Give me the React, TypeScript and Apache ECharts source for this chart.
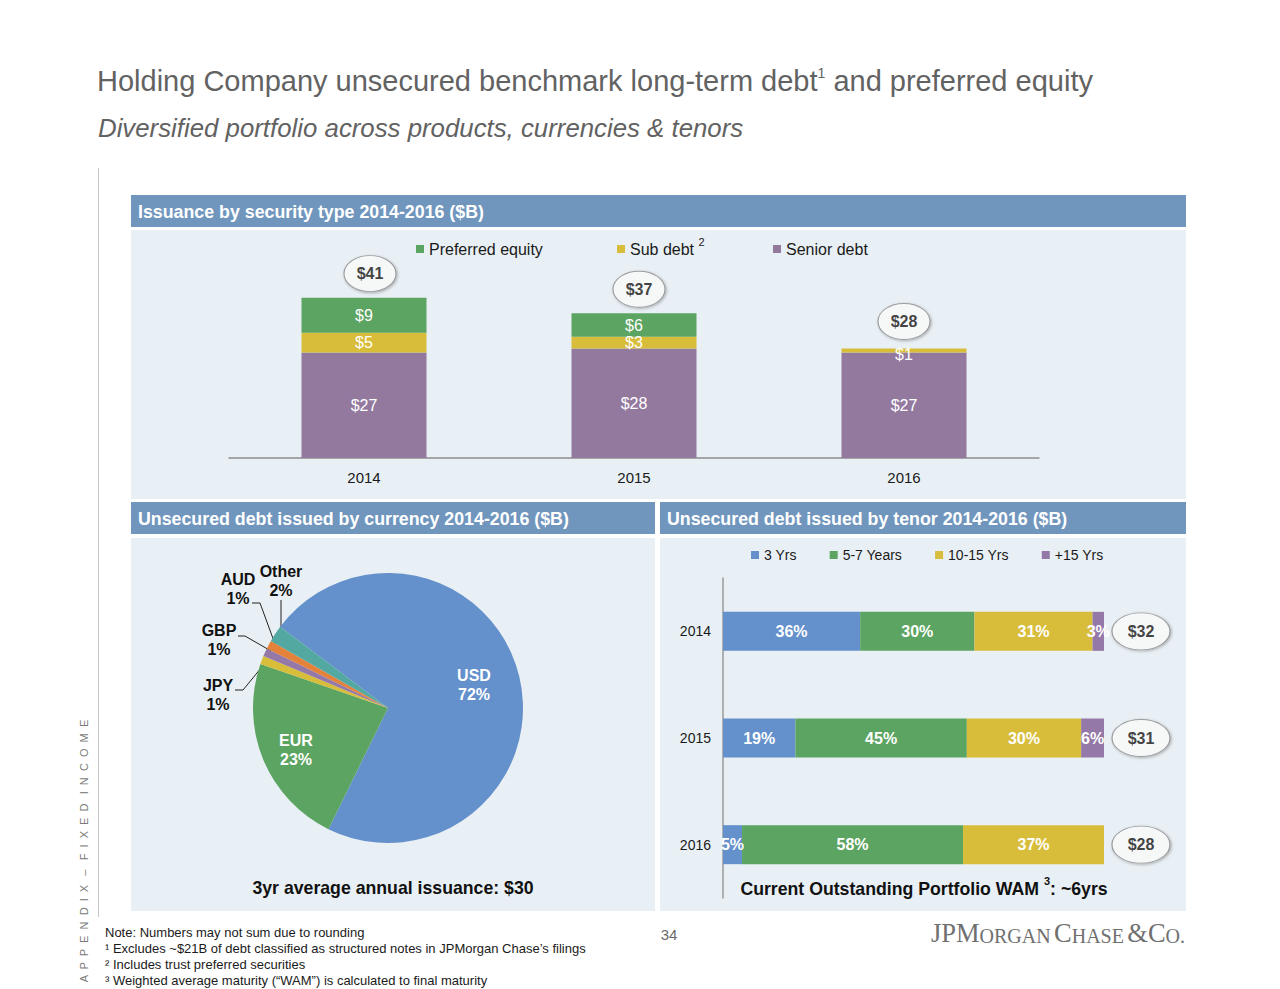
import React, { useEffect, useRef } from 'react';
import * as echarts from 'echarts';

const FONT = '"Liberation Sans", Arial, Helvetica, sans-serif';
const SERIF = '"Liberation Serif", "Times New Roman", serif';

// ---- Data: issuance by security type ($B)
const issuanceYears = ['2014', '2015', '2016'];
const seniorDebt = [27, 28, 27];
const subDebt = [5, 3, 1];
const preferredEquity = [9, 6, 0];
const issuanceTotals = [41, 37, 28];

// ---- Data: unsecured debt by currency (%)
const currencyNames = ['USD', 'EUR', 'JPY', 'GBP', 'AUD', 'Other'];
const currencyShares = [72, 23, 1, 1, 1, 2];

// ---- Data: unsecured debt by tenor (%)
const tenorYears = ['2014', '2015', '2016'];
const tenor3Yrs = [36, 19, 5];
const tenor5to7 = [30, 45, 58];
const tenor10to15 = [31, 30, 37];
const tenorOver15 = [3, 6, 0];
const tenorTotals = [32, 31, 28];

// ---- Styles / layout
const BLUE = '#6490cc';
const GREEN = '#5ca461';
const YELLOW = '#d8bd3b';
const PURPLE = '#94799f';
const currencyColors = [BLUE, GREEN, YELLOW, '#9479a8', '#e5823a', '#53a8a2'];
const HEADER = '#7096be';
const BODY = '#e9f0f5';

const ELLIPSE = 'path://M0,50 C0,22.4 22.4,0 50,0 C77.6,0 100,22.4 100,50 C100,77.6 77.6,100 50,100 C22.4,100 0,77.6 0,50 Z';
const topEllipseOffsets = [[6, -24], [5, -24], [0, -27]];

const pieLabelLayout: any[] = [
  { x: 474, y: 685 },
  { x: 296, y: 750 },
  { x: 218, y: 695, pts: [[266, 662], [243, 690], [235, 690]] },
  { x: 219, y: 640, pts: [[271, 651], [245, 636], [238, 636]] },
  { x: 238, y: 589, pts: [[275, 644], [260, 603], [252, 603]] },
  { x: 281, y: 581, pts: [[281, 632], [281, 616], [281, 600]] },
];

const ellipseStyle = {
  color: '#ffffff',
  borderColor: '#8a8a8a',
  borderWidth: 1,
  shadowBlur: 3,
  shadowColor: 'rgba(0,0,0,0.35)',
  shadowOffsetX: 1,
  shadowOffsetY: 1,
};

function txt(x: number, y: number, text: string, style: any, extra: any = {}) {
  return {
    type: 'text',
    x,
    y,
    z: 20,
    ...extra,
    style: { text, fontFamily: FONT, fill: '#1a1a1a', verticalAlign: 'middle', ...style },
  };
}

function rect(x: number, y: number, w: number, h: number, fill: string) {
  return { type: 'rect', z: 0, shape: { x, y, width: w, height: h }, style: { fill } };
}

export default function App() {
  const ref = useRef<HTMLDivElement>(null);

  useEffect(() => {
    if (!ref.current) return;
    const chart = echarts.init(ref.current, null, { renderer: 'svg' });

    const legendCommon = {
      icon: 'rect',
      itemWidth: 8,
      itemHeight: 8,
      selectedMode: false,
      textStyle: { fontSize: 16, color: '#1a1a1a', fontFamily: FONT },
    };

    const barLabel = (size: number, bold: boolean) => ({
      show: true,
      position: 'inside',
      color: '#ffffff',
      fontSize: size,
      fontWeight: bold ? 'bold' : 'normal',
      fontFamily: FONT,
    });

    const tenorSum = tenorYears.map(
      (_, i) => tenor3Yrs[i] + tenor5to7[i] + tenor10to15[i] + tenorOver15[i]
    );

    const option: any = {
      animation: false,
      textStyle: { fontFamily: FONT },
      legend: [
        { ...legendCommon, data: ['Preferred equity'], left: 411, top: 236 },
        {
          ...legendCommon,
          data: ['Sub debt'],
          left: 612,
          top: 231,
          formatter: () => '{n|Sub debt }{s|2}',
          textStyle: {
            ...legendCommon.textStyle,
            rich: {
              n: { fontSize: 16, lineHeight: 26, color: '#1a1a1a', fontFamily: FONT, verticalAlign: 'middle' },
              s: { fontSize: 11, lineHeight: 11, color: '#1a1a1a', fontFamily: FONT, verticalAlign: 'top' },
            },
          },
        },
        { ...legendCommon, data: ['Senior debt'], left: 768, top: 236 },
        {
          ...legendCommon,
          data: ['3 Yrs', '5-7 Years', '10-15 Yrs', '+15 Yrs'],
          left: 746,
          top: 543,
          itemGap: 33,
          textStyle: { fontSize: 14, color: '#1a1a1a', fontFamily: FONT },
        },
      ],
      grid: [
        { left: 229, top: 282, width: 810, height: 176 },
        { left: 723, top: 578, width: 381, height: 320 },
      ],
      xAxis: [
        {
          gridIndex: 0,
          type: 'category',
          data: issuanceYears,
          axisLine: { lineStyle: { color: '#8c8c8c', width: 1.5 } },
          axisTick: { show: false },
          axisLabel: { color: '#1a1a1a', fontSize: 15, margin: 12, fontFamily: FONT },
        },
        { gridIndex: 1, type: 'value', min: 0, max: 100, show: false },
      ],
      yAxis: [
        { gridIndex: 0, type: 'value', min: 0, max: 45, show: false },
        {
          gridIndex: 1,
          type: 'category',
          data: tenorYears,
          inverse: true,
          axisLine: { lineStyle: { color: '#9a9a9a', width: 1.5 } },
          axisTick: { show: false },
          axisLabel: { color: '#1a1a1a', fontSize: 14, margin: 12, fontFamily: FONT },
        },
      ],
      series: [
        {
          name: 'Senior debt',
          type: 'bar',
          stack: 'issuance',
          xAxisIndex: 0,
          yAxisIndex: 0,
          barWidth: 125,
          itemStyle: { color: PURPLE },
          label: { ...barLabel(16, false), formatter: (p: any) => '$' + p.value },
          data: seniorDebt,
        },
        {
          name: 'Sub debt',
          type: 'bar',
          stack: 'issuance',
          xAxisIndex: 0,
          yAxisIndex: 0,
          barWidth: 125,
          itemStyle: { color: YELLOW },
          label: { ...barLabel(16, false), formatter: (p: any) => (p.value ? '$' + p.value : '') },
          data: subDebt.map((v, i) =>
            i === 2 ? { value: v, label: { offset: [0, 4] } } : v
          ),
        },
        {
          name: 'Preferred equity',
          type: 'bar',
          stack: 'issuance',
          xAxisIndex: 0,
          yAxisIndex: 0,
          barWidth: 125,
          itemStyle: { color: GREEN },
          label: { ...barLabel(16, false), formatter: (p: any) => (p.value ? '$' + p.value : '') },
          data: preferredEquity,
        },
        {
          name: 'Issuance total',
          type: 'scatter',
          xAxisIndex: 0,
          yAxisIndex: 0,
          clip: false,
          z: 5,
          symbol: ELLIPSE,
          symbolSize: [52, 36],
          itemStyle: ellipseStyle,
          label: {
            show: true,
            position: 'inside',
            color: '#111',
            fontWeight: 'bold',
            fontSize: 16,
            fontFamily: FONT,
            formatter: (p: any) => '$' + p.value[1],
          },
          data: issuanceTotals.map((t, i) => ({
            value: [i, t],
            symbolOffset: topEllipseOffsets[i],
          })),
        },
        {
          name: 'Currency',
          type: 'pie',
          center: [388, 708],
          radius: 135,
          startAngle: 143,
          clockwise: true,
          avoidLabelOverlap: false,
          silent: true,
          itemStyle: { borderWidth: 0 },
          labelLine: { show: false },
          labelLayout: (p: any) => {
            const l = pieLabelLayout[p.dataIndex];
            const out: any = { x: l.x, y: l.y, align: 'center', verticalAlign: 'middle' };
            if (l.pts) out.labelLinePoints = l.pts;
            return out;
          },
          data: currencyNames.map((n, i) => {
            const inside = i < 2;
            return {
              name: n,
              value: currencyShares[i],
              itemStyle: { color: currencyColors[i] },
              label: {
                show: true,
                position: inside ? 'inside' : 'outside',
                formatter: '{b}\n{c}%',
                color: inside ? '#ffffff' : '#111111',
                fontSize: 16,
                fontWeight: 'bold',
                lineHeight: 19,
                fontFamily: FONT,
              },
              labelLine: {
                show: !inside,
                smooth: false,
                lineStyle: { color: '#222', width: 1 },
              },
            };
          }),
        },
        ...[
          { name: '3 Yrs', data: tenor3Yrs, color: BLUE },
          { name: '5-7 Years', data: tenor5to7, color: GREEN },
          { name: '10-15 Yrs', data: tenor10to15, color: YELLOW },
          { name: '+15 Yrs', data: tenorOver15, color: '#9479a8' },
        ].map((s) => ({
          name: s.name,
          type: 'bar',
          stack: 'tenor',
          xAxisIndex: 1,
          yAxisIndex: 1,
          barWidth: 39,
          itemStyle: { color: s.color },
          label: { ...barLabel(16, true), formatter: (p: any) => (p.value ? p.value + '%' : '') },
          data: s.data,
        })),
        {
          name: 'Tenor total',
          type: 'scatter',
          xAxisIndex: 1,
          yAxisIndex: 1,
          clip: false,
          z: 5,
          symbol: ELLIPSE,
          symbolSize: [58, 37],
          symbolOffset: [37, 0],
          itemStyle: ellipseStyle,
          label: {
            show: true,
            position: 'inside',
            color: '#111',
            fontWeight: 'bold',
            fontSize: 16,
            fontFamily: FONT,
            formatter: (p: any) => '$' + tenorTotals[p.dataIndex],
          },
          data: tenorSum.map((s, i) => [s, i]),
        },
      ],
      graphic: {
        elements: [
          // panels
          rect(131, 195, 1055, 32, HEADER),
          rect(131, 230, 1055, 269, BODY),
          rect(131, 502, 524, 32, HEADER),
          rect(660, 502, 526, 32, HEADER),
          rect(131, 538, 524, 373, BODY),
          rect(660, 538, 526, 373, BODY),
          // left rule
          {
            type: 'line',
            z: 1,
            shape: { x1: 98.5, y1: 168, x2: 98.5, y2: 917 },
            style: { stroke: '#c4c4c4', lineWidth: 1 },
          },
          // title
          txt(97, 81, '', {
            text: '{t|Holding Company unsecured benchmark long-term debt}{s|1}{t| and preferred equity}',
            rich: {
              t: { fontSize: 29, lineHeight: 30, fill: '#626262', fontFamily: FONT, verticalAlign: 'middle' },
              s: { fontSize: 14, lineHeight: 14, fill: '#626262', fontFamily: FONT, verticalAlign: 'top' },
            },
          }),
          txt(98, 128, 'Diversified portfolio across products, currencies & tenors', {
            fontSize: 25.8,
            fontStyle: 'italic',
            fill: '#626262',
          }),
          // vertical side text
          txt(
            84,
            851,
            'A  P  P  E  N  D  I  X   –   F  I  X  E  D   I  N  C  O  M  E',
            { fontSize: 11, fill: '#7a7a7a', align: 'center' },
            { rotation: Math.PI / 2 }
          ),
          // panel headers
          txt(138, 212, 'Issuance by security type 2014-2016 ($B)', {
            fontSize: 17.8,
            fontWeight: 'bold',
            fill: '#ffffff',
          }),
          txt(138, 519, 'Unsecured debt issued by currency 2014-2016 ($B)', {
            fontSize: 17.8,
            fontWeight: 'bold',
            fill: '#ffffff',
          }),
          txt(667, 519, 'Unsecured debt issued by tenor 2014-2016 ($B)', {
            fontSize: 17.8,
            fontWeight: 'bold',
            fill: '#ffffff',
          }),
          // captions
          txt(393, 888, '3yr average annual issuance: $30', {
            fontSize: 17.7,
            fontWeight: 'bold',
            fill: '#111111',
            align: 'center',
          }),
          txt(924, 889, '', {
            text: '{t|Current Outstanding Portfolio WAM }{s|3}{t|: ~6yrs}',
            align: 'center',
            rich: {
              t: { fontSize: 17.7, lineHeight: 28, fontWeight: 'bold', fill: '#111111', fontFamily: FONT, verticalAlign: 'middle' },
              s: { fontSize: 11, lineHeight: 11, fontWeight: 'bold', fill: '#111111', fontFamily: FONT, verticalAlign: 'top' },
            },
          }),
          // footnotes
          txt(105, 932, 'Note: Numbers may not sum due to rounding', { fontSize: 13 }),
          txt(105, 948, '¹ Excludes ~$21B of debt classified as structured notes in JPMorgan Chase’s filings', { fontSize: 13 }),
          txt(105, 964, '² Includes trust preferred securities', { fontSize: 13 }),
          txt(105, 980, '³ Weighted average maturity (“WAM”) is calculated to final maturity', { fontSize: 13 }),
          txt(669, 934, '34', { fontSize: 15, fill: '#6a6a6a', align: 'center' }),
          // logo
          txt(1185, 933, '', {
            text: '{b|JPM}{s|ORGAN} {b|C}{s|HASE} {b|&}{b|C}{s|O.}',
            align: 'right',
            rich: {
              b: { fontSize: 26.5, lineHeight: 26, fill: '#707070', fontFamily: SERIF, verticalAlign: 'bottom' },
              s: { fontSize: 20, lineHeight: 21, fill: '#707070', fontFamily: SERIF, verticalAlign: 'bottom' },
            },
          }),
        ],
      },
    };

    chart.setOption(option);
    return () => chart.dispose();
  }, []);

  return (
    <div
      ref={ref}
      style={{ position: 'absolute', left: 0, top: 0, width: 1280, height: 989, background: '#ffffff' }}
    />
  );
}
